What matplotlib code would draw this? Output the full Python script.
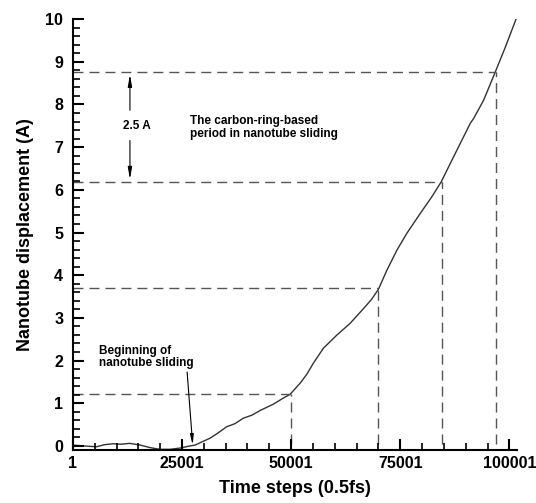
import matplotlib
matplotlib.use("Agg")
import matplotlib.pyplot as plt

plt.rcParams['font.family'] = ['Liberation Sans', 'DejaVu Sans']
plt.rcParams['font.weight'] = 'bold'

# curve
steps = [1, 2400, 5400, 7300, 9250, 11000, 13000, 15400, 17700, 19950,
         22250, 24550, 26850, 28000, 31400, 33200, 35250, 37100, 39050,
         41000, 42900, 45950, 48200, 49770, 52060, 53600, 55100, 57400,
         60500, 63500, 66600, 68400, 70000, 71950, 74250, 76500, 79600,
         82250, 84400, 86470, 88760, 91050, 91800, 94100, 96800, 99100, 101600]
disp = [0.02, 0.0, -0.02, 0.03, 0.05, 0.04, 0.06, 0.02, -0.04, -0.08,
        -0.08, -0.05, 0.0, 0.02, 0.18, 0.30, 0.45, 0.52, 0.65,
        0.72, 0.83, 0.98, 1.12, 1.21, 1.47, 1.68, 1.94, 2.29,
        2.60, 2.87, 3.22, 3.43, 3.67, 4.12, 4.59, 4.98, 5.45,
        5.84, 6.19, 6.62, 7.09, 7.56, 7.67, 8.10, 8.77, 9.35, 10.02]

# period guide lines: (time step, displacement)
guide_x = [50001, 70001, 84500, 97000]
guide_y = [1.22, 3.69, 6.18, 8.77]

xticks = [1, 25001, 50001, 75001, 100001]
xminor = [x for x in range(5001, 101800, 5000) if (x - 1) % 25000]
yticks = list(range(0, 11))
yminor = [round(0.2 * i, 1) for i in range(51) if i % 5]

fig = plt.figure(figsize=(5.36, 5.03), dpi=100)
ax = fig.add_axes([0.136, 0.105, 0.829, 0.857])

ax.plot(steps, disp, color='#333333', lw=1.0)

for gx, gy in zip(guide_x, guide_y):
    ax.plot([1, gx], [gy, gy], color='#555555', lw=1.0, dashes=(7.2, 4.3))
    ax.plot([gx, gx], [0.05, gy], color='#555555', lw=1.0, dashes=(7.2, 4.3))

# 2.5 A double arrow
ax.annotate('', xy=(13070, 8.77), xytext=(13070, 7.8),
            arrowprops=dict(arrowstyle='-|>,head_length=0.7,head_width=0.12',
                            color='black', lw=0.8))
ax.annotate('', xy=(13070, 6.18), xytext=(13070, 7.22),
            arrowprops=dict(arrowstyle='-|>,head_length=0.7,head_width=0.12',
                            color='black', lw=0.8))
ax.text(11470, 7.49, '2.5 A', fontsize=8.5, va='center', ha='left')

ax.text(26840, 7.46, 'The carbon-ring-based\nperiod in nanotube sliding',
        fontsize=8.5, va='center', ha='left', linespacing=1.05)

ax.annotate('Beginning of\nnanotube sliding', xy=(27450, 0.02), xytext=(5960, 2.08),
            fontsize=8.5, va='center', ha='left', linespacing=1.05,
            arrowprops=dict(arrowstyle='-|>,head_length=0.7,head_width=0.12',
                            color='black', lw=0.8, shrinkA=0, shrinkB=0,
                            relpos=(0.93, 0.0)))

ax.set_xlim(1, 101800)
ax.set_ylim(-0.1, 10)
ax.set_xticks(xticks)
ax.set_xticklabels([str(t) for t in xticks])
ax.set_yticks(yticks)

ax.spines['top'].set_visible(False)
ax.spines['right'].set_visible(False)
ax.spines['left'].set_linewidth(1.5)
ax.spines['bottom'].set_linewidth(1.5)

# tick marks drawn as short inward segments
ax.tick_params(axis='x', which='both', length=0, labelsize=11.5, pad=4, colors='black')
ax.tick_params(axis='y', which='both', length=0, labelsize=11.5, pad=7, colors='black')
xt = ax.get_xaxis_transform()
yt = ax.get_yaxis_transform()
ax.vlines(xticks, 0, 0.026, transform=xt, color='black', lw=1.5, clip_on=False)
ax.vlines(xminor, 0, 0.016, transform=xt, color='black', lw=1.2, clip_on=False)
ax.hlines(yticks, 0, 0.025, transform=yt, color='black', lw=1.5, clip_on=False)
ax.hlines(yminor, 0, 0.016, transform=yt, color='black', lw=1.2, clip_on=False)

ax.set_xlabel('Time steps (0.5fs)', fontsize=13, fontweight='bold', labelpad=7)
ax.set_ylabel('Nanotube displacement (A)', fontsize=13, fontweight='bold', labelpad=8)

fig.savefig('out.png', dpi=100)
